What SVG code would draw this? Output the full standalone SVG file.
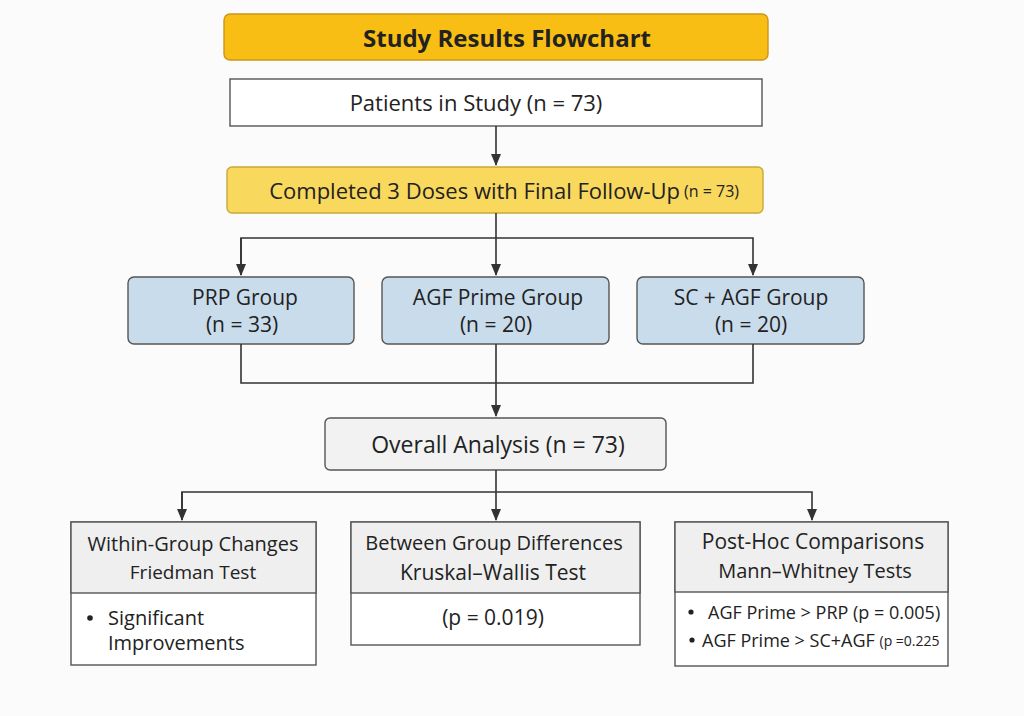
<svg xmlns="http://www.w3.org/2000/svg" width="1024" height="716" viewBox="0 0 1024 716">
<defs>
<marker id="ah" markerWidth="12" markerHeight="10" refX="11" refY="5" orient="auto" markerUnits="userSpaceOnUse">
<path d="M0,0 L12,5 L0,10 Z" fill="#333"/>
</marker>
<style>
text{font-family:"Open Sans","Liberation Sans",sans-serif;fill:#222;text-anchor:middle;dominant-baseline:central}
.c{fill:none;stroke:#333;stroke-width:1.6}
.b{stroke:#555;stroke-width:1.4}
.t{font-size:22px}
.g{font-size:21px}
.s{font-size:20px}
.l{text-anchor:start}
</style>
</defs>
<rect width="1024" height="716" fill="#FBFBFB"/>
<g id="title">
<rect x="224" y="14" width="544" height="46" rx="6" fill="#F8BE14" stroke="#C9961A" stroke-width="1.4"/>
<text x="507" y="37" style="font-size:24px;font-weight:bold">Study Results Flowchart</text>
</g>
<g id="patients">
<rect x="230" y="79" width="532" height="47" fill="#FFFFFF" class="b"/>
<text x="476" y="102" class="t">Patients in Study (n = 73)</text>
</g>
<g id="completed">
<rect x="227" y="167" width="536" height="46" rx="5" fill="#F9D85E" stroke="#C9A83A" stroke-width="1.4"/>
<text x="680" y="190" class="t" style="text-anchor:end">Completed 3 Doses with Final Follow-Up</text>
<text x="684" y="191" class="l" style="font-size:16px">(n = 73)</text>
</g>
<g id="prp">
<rect x="128" y="277" width="226" height="67" rx="6" fill="#C9DCEC" class="b"/>
<text x="245" y="297" class="g">PRP Group</text>
<text x="242" y="324" class="g">(n = 33)</text>
</g>
<g id="agf">
<rect x="382" y="277" width="227" height="67" rx="6" fill="#C9DCEC" class="b"/>
<text x="498" y="297" class="g">AGF Prime Group</text>
<text x="496" y="324" class="g">(n = 20)</text>
</g>
<g id="scagf">
<rect x="637" y="277" width="227" height="67" rx="6" fill="#C9DCEC" class="b"/>
<text x="751" y="297" class="g">SC + AGF Group</text>
<text x="751" y="324" class="g">(n = 20)</text>
</g>
<g id="overall">
<rect x="325" y="418" width="341" height="52" rx="5" fill="#F2F2F2" class="b"/>
<text x="498" y="444" style="font-size:23px">Overall Analysis (n = 73)</text>
</g>
<g id="within">
<rect x="71" y="522" width="245" height="143" fill="#FFFFFF" class="b"/>
<rect x="71" y="522" width="245" height="71" fill="#EFEFEF" class="b"/>
<text x="193" y="543" class="s">Within-Group Changes</text>
<text x="193" y="572" style="font-size:19px">Friedman Test</text>
<circle cx="90" cy="618" r="2.8" fill="#222"/>
<text x="108" y="617" class="s l">Significant</text>
<text x="108" y="642" class="s l">Improvements</text>
</g>
<g id="between">
<rect x="351" y="522" width="289" height="123" fill="#FFFFFF" class="b"/>
<rect x="351" y="522" width="289" height="71" fill="#EFEFEF" class="b"/>
<text x="494" y="542" class="s">Between Group Differences</text>
<text x="493" y="572" class="g">Kruskal–Wallis Test</text>
<text x="493" y="617" class="g">(p = 0.019)</text>
</g>
<g id="posthoc">
<rect x="675" y="522" width="273" height="144" fill="#FFFFFF" class="b"/>
<rect x="675" y="522" width="273" height="70" fill="#EFEFEF" class="b"/>
<text x="813" y="541" class="g">Post-Hoc Comparisons</text>
<text x="815" y="570" class="s">Mann–Whitney Tests</text>
<circle cx="691" cy="612" r="2.6" fill="#222"/>
<text x="708" y="612" class="l" style="font-size:18px">AGF Prime &gt; PRP (p = 0.005)</text>
<circle cx="692" cy="640" r="2.6" fill="#222"/>
<text x="702" y="640" class="l" style="font-size:18px">AGF Prime &gt; SC+AGF <tspan style="font-size:14px">(p =0.225</tspan></text>
</g>
<g id="connectors">
<path class="c" d="M496,126 V165" marker-end="url(#ah)"/>
<path class="c" d="M496,213 V275" marker-end="url(#ah)"/>
<path class="c" d="M241,275 V238 H753 V275" marker-end="url(#ah)"/>
<path class="c" d="M241,238 V275" marker-end="url(#ah)"/>
<path class="c" d="M241,344 V383 H753 V344"/>
<path class="c" d="M496,344 V416" marker-end="url(#ah)"/>
<path class="c" d="M496,470 V520" marker-end="url(#ah)"/>
<path class="c" d="M182,520 V492 H812 V520" marker-end="url(#ah)"/>
<path class="c" d="M182,492 V520" marker-end="url(#ah)"/>
</g>
</svg>
